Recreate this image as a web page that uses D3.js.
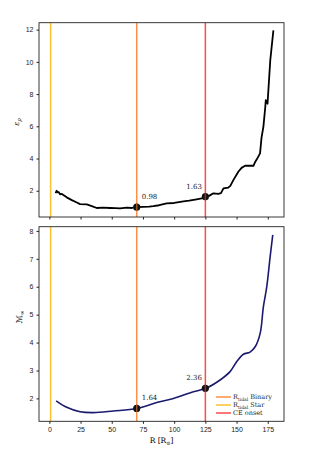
<!DOCTYPE html>
<html>
<head>
<meta charset="utf-8">
<script src="https://cdn.jsdelivr.net/npm/d3@7"></script>
<style>
  body { margin: 0; background: #fff; }
  svg { display: block; font-family: "DejaVu Serif", "Liberation Serif", serif; }
  .tick text { font-size: 7px; fill: #222; }
  .tick line, .domain { stroke: #222; }
  .frame { fill: none; stroke: #222; stroke-width: 0.9; }
</style>
</head>
<body>
<svg id="chart" width="316" height="454"></svg>
<script>
// values
const epsR = [5, 5.8, 6.6, 7.4, 8.6, 10, 13.9, 18, 22, 24.6, 30, 34, 38, 43, 48.6, 53, 56.6, 62, 66, 70,
  75, 80, 83.3, 88, 94, 100, 107.4, 112, 118, 122, 125.3, 128, 131.4, 135.4, 137.5, 139.5, 143.4, 145,
  147.4, 151.4, 154, 156.8, 160, 163.5, 165, 166.2, 168.8, 170, 171.5, 173, 173.4, 174.8, 177, 179.5];
const epsV = [1.85, 2.0, 1.9, 1.92, 1.78, 1.8, 1.59, 1.42, 1.27, 1.17, 1.15, 1.05, 0.93, 0.95, 0.93, 0.92, 0.9, 0.95, 0.93, 0.98,
  1.0, 1.02, 1.04, 1.1, 1.22, 1.24, 1.34, 1.38, 1.46, 1.52, 1.63, 1.68, 1.84, 1.8, 1.85, 2.15, 2.2, 2.3,
  2.66, 3.18, 3.42, 3.55, 3.56, 3.55, 3.8, 3.95, 4.32, 5.3, 5.98, 7.2, 7.63, 7.4, 10.1, 11.95];

const machR = [5.4, 13.9, 24.6, 35.3, 51.3, 70, 86, 99.4, 115.4, 125.3, 136.8, 144.8, 150.2, 155.5,
  160.8, 164.9, 168.9, 171.5, 174.2, 176.9, 179];
const machV = [1.91, 1.68, 1.52, 1.49, 1.55, 1.64, 1.85, 2.0, 2.24, 2.36, 2.66, 2.96, 3.32, 3.58,
  3.66, 3.85, 4.33, 5.29, 6.0, 7.08, 7.86];

const lineR = [1, 70, 125];                       // R_tidal Star, R_tidal Binary, CE onset
const lineColors = ["#ffc02e", "#ff8f45", "#ff4a4a"];
const legendLabels = ["Binary", "Star", "CE onset"];
const legendOrder = [1, 0, 2];                    // legend lists Binary, Star, CE onset

const epsMarks = [[70, 0.98], [125, 1.63]];
const machMarks = [[70, 1.64], [125, 2.36]];

const xTicks = [0, 25, 50, 75, 100, 125, 150, 175];
const epsTicks = [2, 4, 6, 8, 10, 12];
const machTicks = [2, 3, 4, 5, 6, 7, 8];

const svg = d3.select("#chart");
const left = 39, right = 284;

const x = d3.scaleLinear().domain([-8.3, 188]).range([left, right]);

function panel(top, bottom, yDomain, ticks, rs, vs, marks, color, width, curve, showXLabels) {
  const y = d3.scaleLinear().domain(yDomain).range([bottom, top]);
  const g = svg.append("g");

  // vertical reference lines
  lineR.forEach((r, i) => {
    g.append("line")
      .attr("x1", x(r)).attr("x2", x(r))
      .attr("y1", top).attr("y2", bottom)
      .attr("stroke", lineColors[i])
      .attr("stroke-width", 1.5);
  });

  const line = d3.line().x((d, i) => x(rs[i])).y((d, i) => y(vs[i])).curve(curve);
  g.append("path")
    .attr("d", line(rs))
    .attr("fill", "none")
    .attr("stroke", color)
    .attr("stroke-width", width)
    .attr("stroke-linejoin", "round");

  marks.forEach((m, i) => {
    g.append("circle")
      .attr("cx", x(m[0])).attr("cy", y(m[1]))
      .attr("r", 3.6)
      .attr("fill", "#111");
    // line crosses over the marker, slightly transparent
    g.append("line")
      .attr("x1", x(m[0])).attr("x2", x(m[0]))
      .attr("y1", y(m[1]) - 3.6).attr("y2", y(m[1]) + 3.6)
      .attr("stroke", lineColors[i + 1])
      .attr("stroke-opacity", 0.55)
      .attr("stroke-width", 1.5);
    g.append("text")
      .attr("x", i === 0 ? x(m[0]) + 5 : x(m[0]) - 3.5)
      .attr("y", y(m[1]) - 8)
      .attr("text-anchor", i === 0 ? "start" : "end")
      .attr("font-size", 7)
      .attr("fill", "#222")
      .text(m[1].toFixed(2));
  });

  g.append("g")
    .attr("transform", `translate(0,${bottom})`)
    .call(d3.axisBottom(x).tickValues(xTicks).tickSize(2.5).tickPadding(3)
      .tickFormat(showXLabels ? d3.format("d") : ""))
    .call(a => a.select(".domain").remove());

  g.append("g")
    .attr("transform", `translate(${left},0)`)
    .call(d3.axisLeft(y).tickValues(ticks).tickSize(2.5).tickPadding(3).tickFormat(d3.format("d")))
    .call(a => a.select(".domain").remove());

  g.append("rect").attr("class", "frame")
    .attr("x", left).attr("y", top)
    .attr("width", right - left).attr("height", bottom - top);
  return y;
}

panel(22.7, 217, [0.37, 12.43], epsTicks, epsR, epsV, epsMarks, "#000", 1.8, d3.curveLinear, false);
panel(226.7, 421.3, [1.18, 8.15], machTicks, machR, machV, machMarks, "#1a1a6e", 1.6, d3.curveCatmullRom, true);

// axis titles
const yl1 = svg.append("text")
  .attr("transform", "translate(19,122) rotate(-90)")
  .attr("text-anchor", "middle").attr("font-size", 7.5).attr("font-style", "italic");
yl1.append("tspan").text("ε");
yl1.append("tspan").attr("font-size", 5.5).attr("dy", 1.5).text("ρ");

const yl2 = svg.append("text")
  .attr("transform", "translate(22,317) rotate(-90)")
  .attr("text-anchor", "middle").attr("font-size", 8)
  .attr("font-family", "'DejaVu Sans', sans-serif");
yl2.append("tspan").text("ℳ");
yl2.append("tspan").attr("font-size", 5.5).attr("dy", 1.5).text("∞");

const xl = svg.append("text")
  .attr("x", (left + right) / 2).attr("y", 443)
  .attr("text-anchor", "middle").attr("font-size", 7.5);
xl.append("tspan").text("R [R");
xl.append("tspan").attr("font-size", 5).attr("dy", 1.5).text("⊙");
xl.append("tspan").attr("dy", -1.5).text("]");

// legend
const leg = svg.append("g").attr("transform", "translate(216,397)");
legendOrder.forEach((li, k) => {
  const row = leg.append("g").attr("transform", `translate(0,${k * 8})`);
  row.append("line").attr("x1", 0).attr("x2", 15).attr("y1", 0).attr("y2", 0)
    .attr("stroke", lineColors[li]).attr("stroke-width", 1.5);
  const t = row.append("text").attr("x", 17).attr("y", 2.3).attr("font-size", 6.5).attr("fill", "#222");
  if (li === 2) {
    t.text("CE onset");
  } else {
    t.append("tspan").text("R");
    t.append("tspan").attr("font-size", 4.5).attr("dy", 1.2).text("tidal");
    t.append("tspan").attr("dy", -1.2).text(" " + legendLabels[k]);
  }
});
</script>
</body>
</html>
